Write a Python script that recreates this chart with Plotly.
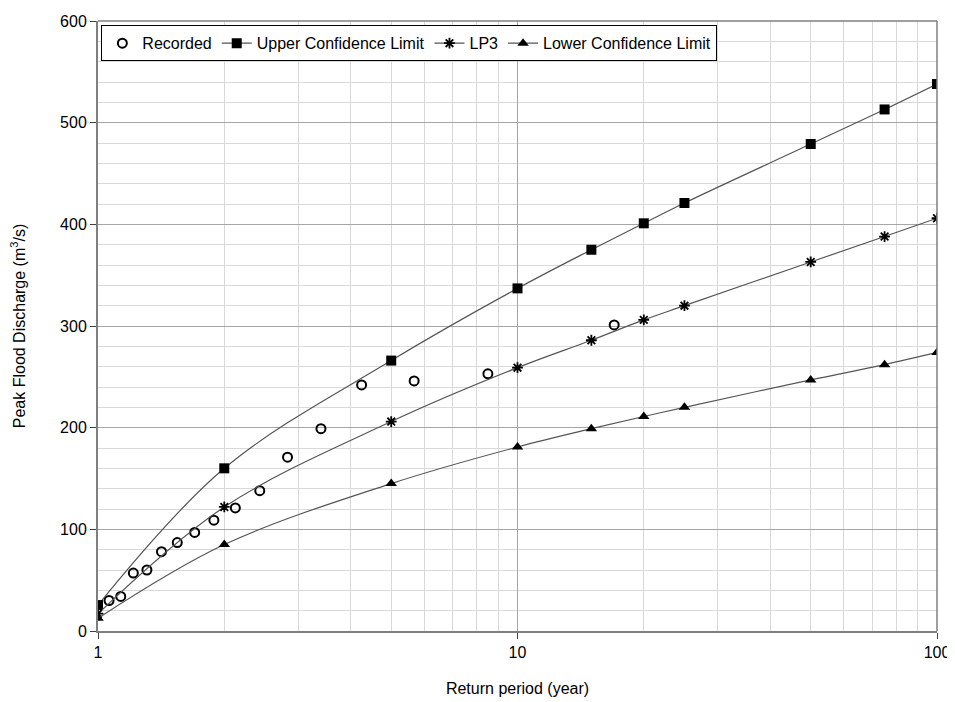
import plotly.graph_objects as go

# Recorded (Weibull plotting positions)
rec_T = [1.0625, 1.133, 1.214, 1.308, 1.417, 1.545, 1.70, 1.889, 2.125, 2.43, 2.83, 3.40, 4.25, 5.67, 8.5, 17.0]
rec_Q = [30, 34, 57, 60, 78, 87, 97, 109, 121, 138, 171, 199, 242, 246, 253, 301]

fit_T = [1.0, 2, 5, 10, 15, 20, 25, 50, 75, 100]
upper_Q = [25.5, 160, 266, 337, 375, 401, 421, 479, 513, 538]
lp3_Q = [17, 122, 206, 259, 286, 306, 320, 363, 388, 406]
lower_Q = [12.5, 85, 145, 181, 199, 211, 220, 247, 262, 274]

x_major = [1, 10, 100]
x_major_labels = ["1", "10", "100"]
x_minor = [2, 3, 4, 5, 6, 7, 8, 9, 20, 30, 40, 50, 60, 70, 80, 90]

FONT = "Liberation Sans, Arial, sans-serif"
LINE_C = "#555555"

fig = go.Figure()
fig.add_trace(go.Scatter(
    x=rec_T, y=rec_Q, mode="markers", name="Recorded",
    marker=dict(symbol="circle-open", size=9, color="black", line=dict(width=2, color="black")),
))
fig.add_trace(go.Scatter(
    x=fit_T, y=upper_Q, mode="lines+markers", name="Upper Confidence Limit",
    line=dict(color=LINE_C, width=1.2, shape="spline"),
    marker=dict(symbol="square", size=10, color="black"),
))
fig.add_trace(go.Scatter(
    x=fit_T, y=lp3_Q, mode="lines+markers", name="LP3",
    line=dict(color=LINE_C, width=1.2, shape="spline"),
    marker=dict(symbol="asterisk-open", size=9, color="black", line=dict(width=1.8, color="black")),
))
fig.add_trace(go.Scatter(
    x=fit_T, y=lower_Q, mode="lines+markers", name="Lower Confidence Limit",
    line=dict(color=LINE_C, width=1.2, shape="spline"),
    marker=dict(symbol="triangle-up", size=10, color="black"),
))

# page body has an 8px margin, so the figure is sized/placed to compensate
fig.update_layout(
    width=947, height=694,
    margin=dict(l=90, r=18, t=13, b=71),
    paper_bgcolor="white", plot_bgcolor="white",
    font=dict(family=FONT, size=16, color="black"),
    showlegend=True,
    legend=dict(
        orientation="h", x=0.004, y=0.993, xanchor="left", yanchor="top",
        bgcolor="white", bordercolor="black", borderwidth=1,
        font=dict(family=FONT, size=16, color="black"),
        itemwidth=30, tracegroupgap=0,
    ),
    xaxis=dict(
        type="log", range=[0, 2], tickmode="array", tickvals=x_major, ticktext=x_major_labels,
        showgrid=True, gridcolor="#a6a6a6", gridwidth=1,
        minor=dict(tickmode="array", tickvals=x_minor, showgrid=True, gridcolor="#d9d9d9", gridwidth=1),
        showline=True, linecolor="#7f7f7f", linewidth=2, mirror=False,
        ticks="outside", ticklen=6, tickcolor="#404040",
        title=dict(text="Return period (year)", font=dict(size=16), standoff=23),
        zeroline=False, automargin=False,
    ),
    yaxis=dict(
        range=[0, 600], dtick=100,
        showgrid=True, gridcolor="#a6a6a6", gridwidth=1,
        minor=dict(dtick=20, showgrid=True, gridcolor="#d9d9d9", gridwidth=1),
        showline=True, linecolor="#7f7f7f", linewidth=2,
        ticks="outside", ticklen=6, tickcolor="#404040",
        title=dict(text="Peak Flood Discharge (m<sup>3</sup>/s)", font=dict(size=16), standoff=32),
        zeroline=False, automargin=False,
    ),
)
# top and right frame lines
fig.add_shape(type="line", xref="paper", yref="paper", x0=0, x1=1, y0=1, y1=1,
              line=dict(color="#7f7f7f", width=1.5))
fig.add_shape(type="line", xref="paper", yref="paper", x0=1, x1=1, y0=0, y1=1,
              line=dict(color="#7f7f7f", width=1.5))

fig.write_html("out.html")
